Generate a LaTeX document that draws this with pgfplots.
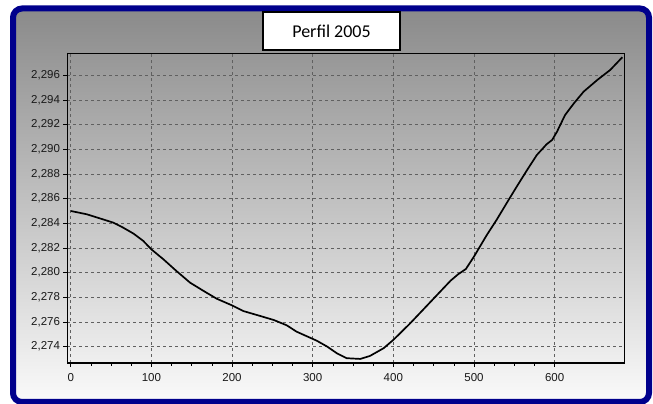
\documentclass[border=0pt]{standalone}
\usepackage{pgfplots}
\pgfplotsset{compat=1.18}
\usepackage{fontspec}
\setmainfont{Liberation Sans}
\newfontfamily\carlito{Carlito}
\definecolor{framenavy}{RGB}{0,0,140}
\definecolor{topgray}{RGB}{138,138,138}
\definecolor{botgray}{RGB}{250,250,250}
\begin{document}
\begin{tikzpicture}[x=1pt,y=1pt]
\useasboundingbox (0,0) rectangle (653,404);
\shade[top color=topgray, bottom color=botgray, rounded corners=9pt] (13,2) rectangle (649,395.5);
\draw[framenavy, line width=6pt, rounded corners=9pt] (13,2) rectangle (649,395.5);
\begin{axis}[
  at={(70.7pt,41pt)}, anchor=origin,
  scale only axis, width=557.3pt, height=310pt,
  xmin=-4, xmax=687, ymin=2.27268, ymax=2.2978,
  xtick={0,100,200,300,400,500,600},
  minor x tick num=3,
  ytick={2.274,2.276,2.278,2.280,2.282,2.284,2.286,2.288,2.290,2.292,2.294,2.296},
  tick align=outside,
  major tick length=4pt, minor tick length=3pt,
  tick style={black, line width=0.6pt},
  xtick pos=bottom, ytick pos=left,
  grid=major,
  major grid style={dashed, gray!75!black, line width=0.5pt},
  axis line style={black, line width=0.8pt},
  tick label style={font=\fontsize{11.5}{13}\selectfont, text=black!90},
  xticklabel style={yshift=-3pt},
  /pgf/number format/assume math mode=true,
  yticklabel style={/pgf/number format/.cd, fixed, fixed zerofill, precision=3, use comma, 1000 sep={}},
  xticklabel style={/pgf/number format/.cd, fixed, 1000 sep={}},
]
\addplot[black, line width=1.7pt, line join=round] coordinates {
(0,2.28500) (20,2.28473) (40,2.28432) (53,2.28405) (65,2.28365)
(78,2.28316) (90,2.28257) (100,2.28189) (115,2.28108) (131,2.28014)
(148,2.27919) (165,2.27851) (181,2.27789) (200,2.27735) (214,2.27689)
(235,2.27649) (252,2.27616) (268,2.27573) (280,2.27522) (305,2.27449)
(318,2.27401) (330,2.27347) (342,2.27307) (359,2.27301) (371,2.27325)
(388,2.27388) (400,2.27455) (421,2.27590) (450,2.27790) (471,2.27935)
(480,2.27985) (490,2.28030) (500,2.28130) (516,2.28306) (528,2.28427)
(543,2.28590) (553,2.28697) (566,2.28833) (578,2.28954) (590,2.29040)
(597,2.29076) (603,2.29143) (613,2.29278) (624,2.29373) (636,2.29467)
(653,2.29562) (669,2.29643) (684,2.29746)
};
\draw[black, line width=1.6pt] (rel axis cs:0,1) -- (rel axis cs:0,0) -- (rel axis cs:1,0);
\end{axis}
\node[draw=black, line width=1.8pt, fill=white, minimum width=137pt, minimum height=38pt, inner sep=0pt] at (331.5,373) {\carlito\fontsize{18}{20}\selectfont Perfil 2005};
\end{tikzpicture}
\end{document}
